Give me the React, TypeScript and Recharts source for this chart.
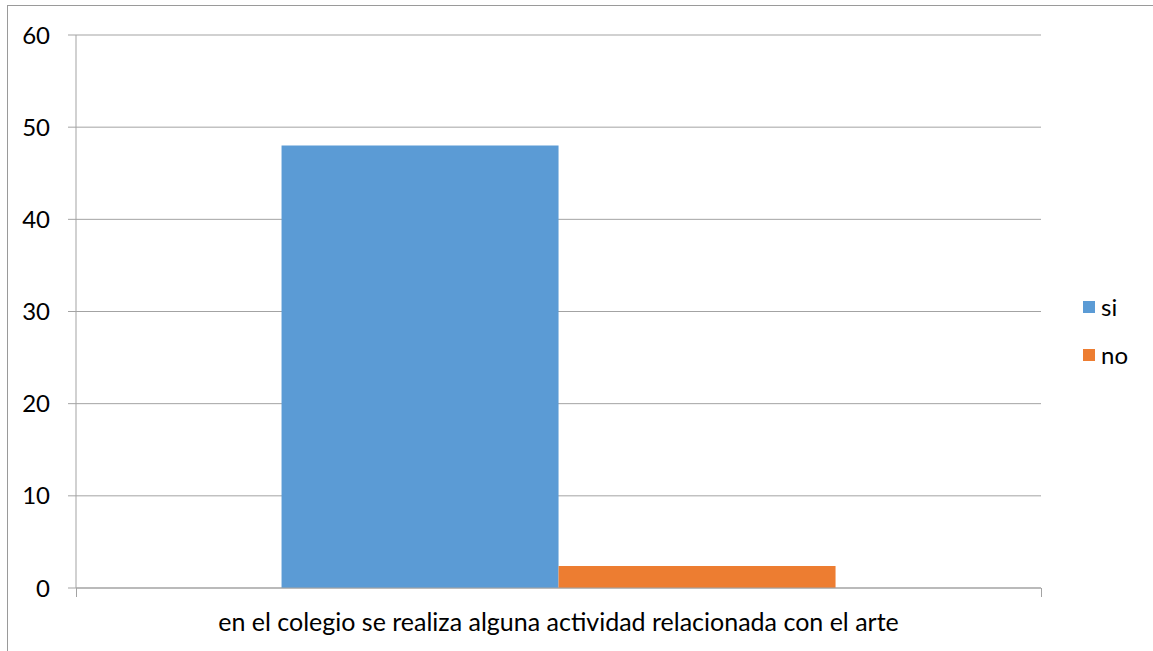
import { BarChart, Bar, XAxis, YAxis, CartesianGrid } from 'recharts'

const categories = ['en el colegio se realiza alguna actividad relacionada con el arte']
const siValues = [48]
const noValues = [2.4]
const yTicks = [0, 10, 20, 30, 40, 50, 60]
const seriesNames = { si: 'si', no: 'no' }

const data = categories.map((name, i) => ({ name, si: siValues[i], no: noValues[i] }))

const BLUE = '#5B9BD5'
const ORANGE = '#ED7D31'
const GRID = '#a3a3a3'
const FONT = 'Lato, "Open Sans", sans-serif'

// plot box in page pixels (matches chart margins below)
const PLOT = { left: 76, right: 1041, bottom: 588 }

function LegendBox() {
  const items = [
    { label: seriesNames.si, color: BLUE },
    { label: seriesNames.no, color: ORANGE },
  ]
  return (
    <div style={{ position: 'absolute', left: 1083, top: 283, fontFamily: FONT, fontSize: 24, color: '#000' }}>
      {items.map((it) => (
        <div key={it.label} style={{ display: 'flex', alignItems: 'center', height: 48 }}>
          <span style={{ display: 'inline-block', width: 12, height: 12, background: it.color, marginRight: 6 }} />
          <span style={{ lineHeight: 1 }}>{it.label}</span>
        </div>
      ))}
    </div>
  )
}

export default function App() {
  return (
    <div style={{ position: 'absolute', left: 0, top: 0, width: 1153, height: 651, background: '#fff', overflow: 'hidden' }}>
      <div style={{ position: 'absolute', left: 7, top: 5, right: 0, bottom: 0, borderLeft: '1px solid #9a9a9a', borderTop: '1px solid #9a9a9a' }} />
      <BarChart
        width={1153}
        height={651}
        data={data}
        margin={{ top: 35, right: 112, left: 16, bottom: 30 }}
        barCategoryGap="21.3%"
        barGap={0}
        style={{ position: 'absolute', left: 0, top: 0 }}
      >
        <CartesianGrid vertical={false} stroke={GRID} />
        <XAxis
          dataKey="name"
          height={33}
          tickLine={false}
          axisLine={{ stroke: GRID }}
          tick={{ fontSize: 25, fill: '#000', fontFamily: FONT }}
          tickMargin={19}
        />
        <YAxis
          width={60}
          domain={[0, 60]}
          ticks={yTicks}
          interval={0}
          tickSize={8}
          tickLine={{ stroke: GRID }}
          axisLine={{ stroke: GRID }}
          tickMargin={18}
          tick={{ fontSize: 24, fill: '#000', fontFamily: FONT }}
        />
        <Bar dataKey="si" name={seriesNames.si} fill={BLUE} isAnimationActive={false} />
        <Bar dataKey="no" name={seriesNames.no} fill={ORANGE} isAnimationActive={false} />
      </BarChart>
      {/* category boundary tick marks on the x axis */}
      {[PLOT.left, PLOT.right].map((x) => (
        <div key={x} style={{ position: 'absolute', left: x - 0.5, top: PLOT.bottom, width: 1, height: 9, background: GRID }} />
      ))}
      <LegendBox />
    </div>
  )
}
